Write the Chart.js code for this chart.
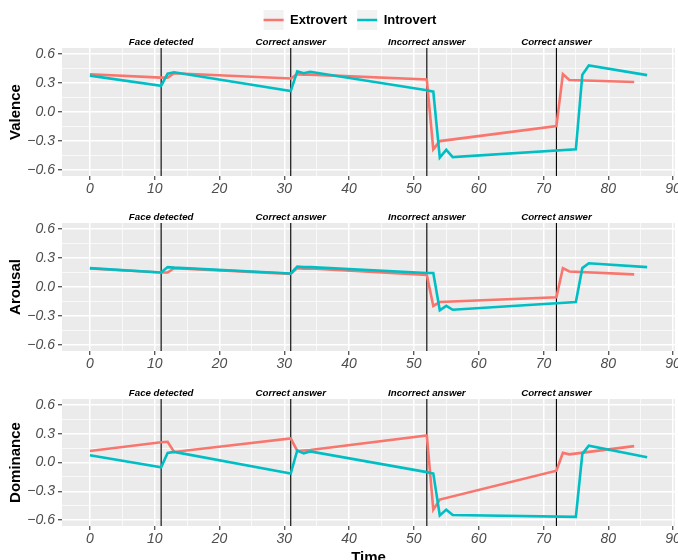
<!DOCTYPE html>
<html lang="en">
<head>
<meta charset="UTF-8">
<title>Valence, arousal and dominance over time</title>
<script src="https://cdn.jsdelivr.net/npm/chart.js"></script>
<style>
  html, body { margin: 0; padding: 0; background: #fff; overflow: hidden; width: 678px; height: 560px; }
  canvas { position: absolute; left: 0; }
</style>
</head>
<body>
<canvas id="valence" width="700" height="200" style="top:0px"></canvas>
<canvas id="arousal" width="700" height="175" style="top:200px"></canvas>
<canvas id="dominance" width="700" height="195" style="top:375px"></canvas>
<script>
// time points of each group
var extTime = [0, 11, 12, 13, 31, 32, 33, 34, 52, 53, 54, 72, 73, 74, 84];
var intTime = [0, 11, 12, 13, 31, 32, 33, 34, 52, 53, 54, 55, 56, 75, 76, 77, 86];

var extValence   = [0.39, 0.355, 0.355, 0.40, 0.345, 0.39, 0.385, 0.385, 0.335, -0.385, -0.30, -0.145, 0.39, 0.33, 0.31];
var intValence   = [0.375, 0.27, 0.395, 0.41, 0.215, 0.42, 0.40, 0.415, 0.225, 0.21, -0.47, -0.39, -0.465, -0.385, 0.385, 0.48, 0.38];
var extArousal   = [0.19, 0.15, 0.15, 0.195, 0.135, 0.195, 0.19, 0.19, 0.125, -0.195, -0.155, -0.105, 0.195, 0.16, 0.13];
var intArousal   = [0.195, 0.15, 0.205, 0.20, 0.14, 0.21, 0.205, 0.205, 0.145, 0.145, -0.24, -0.195, -0.235, -0.155, 0.195, 0.245, 0.205];
var extDominance = [0.12, 0.21, 0.215, 0.11, 0.25, 0.12, 0.125, 0.13, 0.28, -0.49, -0.385, -0.085, 0.10, 0.085, 0.17];
var intDominance = [0.075, -0.05, 0.10, 0.11, -0.115, 0.125, 0.095, 0.115, -0.10, -0.115, -0.55, -0.49, -0.545, -0.565, 0.09, 0.175, 0.055];

var eventTimes  = [11, 31, 52, 72];
var eventLabels = ["Face detected", "Correct answer", "Incorrect answer", "Correct answer"];

var FONT = "'Liberation Sans', Arial, Helvetica, sans-serif";
var EXT_COLOR = "#F8766D";
var INT_COLOR = "#00BFC4";
var PANEL_LEFT = 62;

function pairs(t, v) {
    return t.map(function (x, i) { return { x: x, y: v[i] }; });
}
function majorX(ctx) { return ctx.tick && ctx.tick.value % 10 === 0; }
function majorY(ctx) { return ctx.tick && Math.abs(Math.round(ctx.tick.value / 0.15)) % 2 === 0; }

// grey panel + grey legend keys, drawn under everything else
var panelBg = {
    id: "panelBg",
    beforeDraw: function (chart) {
        var a = chart.chartArea, ctx = chart.ctx;
        ctx.save();
        ctx.fillStyle = "#EBEBEB";
        ctx.fillRect(a.left, a.top, a.right - a.left, a.bottom - a.top);
        if (chart.options.plugins.legend.display && chart.legend.legendHitBoxes) {
            ctx.fillStyle = "#F2F2F2";
            chart.legend.legendHitBoxes.forEach(function (h) {
                ctx.fillRect(h.left, h.top + h.height / 2 - 10, 20, 20);
            });
        }
        ctx.restore();
    }
};

// vertical event lines and their labels
var events = {
    id: "events",
    beforeDatasetsDraw: function (chart) {
        var a = chart.chartArea, ctx = chart.ctx, xs = chart.scales.x;
        ctx.save();
        ctx.strokeStyle = "#000";
        ctx.lineWidth = 1.1;
        eventTimes.forEach(function (t) {
            var px = xs.getPixelForValue(t);
            ctx.beginPath();
            ctx.moveTo(px, a.top);
            ctx.lineTo(px, a.bottom);
            ctx.stroke();
        });
        ctx.restore();
    },
    afterDraw: function (chart) {
        var a = chart.chartArea, ctx = chart.ctx, xs = chart.scales.x;
        ctx.save();
        ctx.fillStyle = "#000";
        ctx.font = "italic bold 9.7px " + FONT;
        ctx.textAlign = "center";
        ctx.textBaseline = "middle";
        eventTimes.forEach(function (t, i) {
            ctx.fillText(eventLabels[i], xs.getPixelForValue(t), a.top - 6);
        });
        ctx.restore();
    }
};

function panel(id, yTitle, extVals, intVals, cfg) {
    var left = cfg.left || 0;
    var scales = {
        x: {
            type: "linear", min: -4.3, max: 90.3,
            grid: {
                color: "#FFFFFF",
                lineWidth: function (c) { return majorX(c) ? 1.5 : 0.7; },
                tickColor: function (c) { return majorX(c) ? "#333333" : "rgba(0,0,0,0)"; },
                tickWidth: 1.1, tickLength: 4
            },
            border: { display: false },
            ticks: {
                stepSize: 5, includeBounds: false, autoSkip: false, maxRotation: 0, minRotation: 0,
                padding: 1, color: "#4D4D4D",
                font: { family: FONT, size: 14, style: "italic" },
                callback: function (v) { return v % 10 === 0 ? String(v) : ""; }
            },
            title: {
                display: !!cfg.xTitle, text: cfg.xTitle || "", color: "#000",
                font: { family: FONT, size: 15, weight: "bold" },
                padding: { top: 0, bottom: 3.4 }
            },
            afterFit: function (s) { s.height = cfg.xHeight; s.paddingLeft = 0; s.paddingRight = 0; }
        },
        y: {
            type: "linear", min: -0.66, max: 0.66,
            grid: {
                color: "#FFFFFF",
                lineWidth: function (c) { return majorY(c) ? 1.5 : 0.7; },
                tickColor: function (c) { return majorY(c) ? "#333333" : "rgba(0,0,0,0)"; },
                tickWidth: 1.1, tickLength: 4
            },
            border: { display: false },
            ticks: {
                stepSize: 0.15, includeBounds: false, autoSkip: false, padding: 3, color: "#4D4D4D",
                font: { family: FONT, size: 14, style: "italic" },
                callback: function (v) {
                    var k = Math.round(v / 0.15);
                    return Math.abs(k) % 2 === 0 ? (k * 0.15).toFixed(1).replace("-", "\u2212") : "";
                }
            },
            title: {
                display: true, text: yTitle, color: "#000",
                font: { family: FONT, size: 15, weight: "bold" },
                // title sits at x = 16 whatever the left padding is
                padding: { top: 7 - left, bottom: 0 }
            },
            afterFit: function (s) { s.width = PANEL_LEFT - left; s.paddingTop = 0; s.paddingBottom = 0; }
        }
    };
    if (cfg.legend) {
        // empty band between the legend and the panel, room for the event labels
        scales.gap = {
            type: "linear", position: "top", min: 0, max: 1,
            grid: { display: false }, border: { display: false }, ticks: { display: false },
            afterFit: function (s) { s.height = cfg.gap; }
        };
    }

    return new Chart(document.getElementById(id), {
        type: "line",
        data: {
            datasets: [
                { label: "Extrovert", data: pairs(extTime, extVals), borderColor: EXT_COLOR, backgroundColor: EXT_COLOR,
                  borderWidth: 2.6, pointRadius: 0, tension: 0, fill: false, order: 1, xAxisID: "x", yAxisID: "y" },
                { label: "Introvert", data: pairs(intTime, intVals), borderColor: INT_COLOR, backgroundColor: INT_COLOR,
                  borderWidth: 2.6, pointRadius: 0, tension: 0, fill: false, order: 0, xAxisID: "x", yAxisID: "y" }
            ]
        },
        options: {
            responsive: false,
            animation: false,
            events: [],
            layout: { padding: { top: cfg.top, right: 25, left: left, bottom: 0 } },
            plugins: {
                tooltip: { enabled: false },
                legend: {
                    display: !!cfg.legend, position: "top",
                    labels: {
                        usePointStyle: true, pointStyle: "line", pointStyleWidth: 20, padding: 10,
                        color: "#000", font: { family: FONT, size: 13, weight: "bold" },
                        sort: function (a, b) { return a.datasetIndex - b.datasetIndex; }
                    }
                }
            },
            scales: scales
        },
        plugins: [panelBg, events]
    });
}

panel("valence", "Valence", extValence, intValence, { legend: true, left: 25, top: 3.5, gap: 11.5, xHeight: 24 });
panel("arousal", "Arousal", extArousal, intArousal, { top: 23, xHeight: 24 });
panel("dominance", "Dominance", extDominance, intDominance, { top: 24, xHeight: 44, xTitle: "Time" });
</script>
</body>
</html>
